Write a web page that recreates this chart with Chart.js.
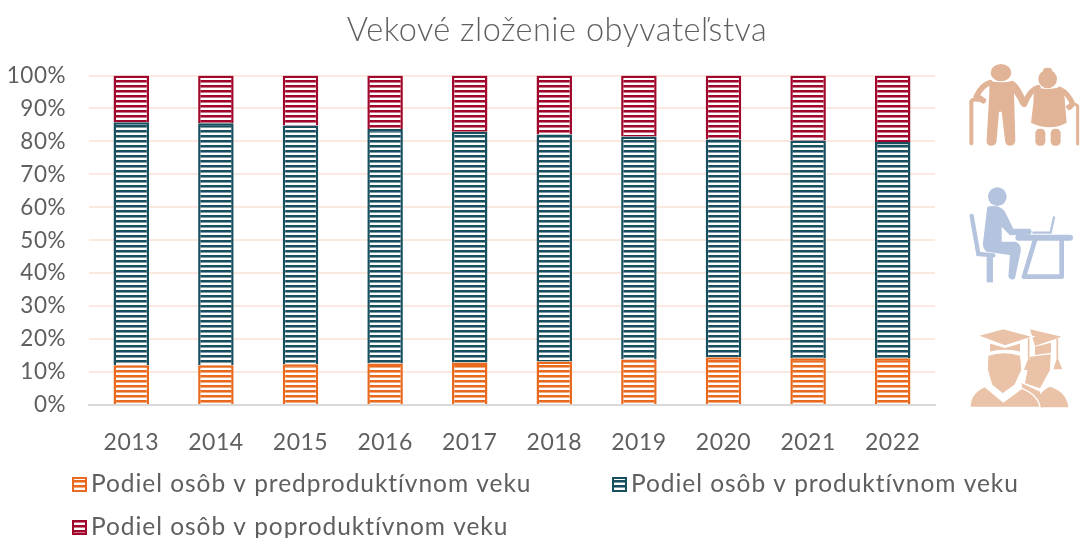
<!DOCTYPE html>
<html>
<head>
<meta charset="utf-8">
<script src="https://cdn.jsdelivr.net/npm/chart.js@4/dist/chart.umd.min.js"></script>
<style>
  html, body { margin: 0; padding: 0; background: #fff; overflow: hidden; }
  #wrap { position: relative; width: 1081px; height: 538px; }
  #icons { position: absolute; left: 0; top: 0; pointer-events: none; }
</style>
</head>
<body>
<div id="wrap">
  <canvas id="chart" width="1081" height="538"></canvas>
  <svg id="icons" width="1081" height="538" viewBox="0 0 1081 538">
    <!-- older couple -->
    <g transform="translate(950,50) scale(0.3333)" fill="#E2B497" stroke="none">
      <ellipse cx="153" cy="68" rx="31" ry="26"/>
      <path d="M118 92 Q153 102 188 92 Q208 100 232 160 Q232 172 222 172 Q212 170 205 150 L192 130 L196 270 Q196 287 180 287 Q165 287 165 270 L155 185 L147 185 L140 270 Q140 287 124 287 Q108 287 110 270 L118 130 Z"/>
      <path d="M120 98 Q95 105 80 138 L100 152" fill="none" stroke="#E2B497" stroke-width="17" stroke-linecap="round"/>
      <path d="M64 280 L64 155 Q66 146 90 150" fill="none" stroke="#E2B497" stroke-width="12" stroke-linecap="round"/>
      <ellipse cx="293" cy="63" rx="14" ry="10"/>
      <circle cx="293" cy="87" r="28"/>
      <path d="M258 112 Q293 122 328 112 Q345 125 345 160 L350 218 Q300 245 243 218 L250 160 Q250 125 258 112 Z"/>
      <path d="M264 113 Q240 120 224 160" fill="none" stroke="#E2B497" stroke-width="17" stroke-linecap="round"/>
      <path d="M330 118 Q355 130 368 162 L358 172" fill="none" stroke="#E2B497" stroke-width="16" stroke-linecap="round"/>
      <path d="M383 282 L383 168 Q375 155 352 170" fill="none" stroke="#E2B497" stroke-width="9" stroke-linecap="round"/>
      <rect x="256" y="236" width="30" height="51" rx="13"/>
      <rect x="302" y="236" width="30" height="51" rx="13"/>
    </g>
    <!-- person at a desk -->
    <g transform="translate(950,180) scale(0.3333)" fill="#B4C3DE" stroke="none">
      <circle cx="142" cy="50" r="28"/>
      <path d="M112 80 Q150 72 165 95 L190 146 L240 146 Q250 155 240 164 L180 166 L155 140 L155 185 L195 185 Q215 190 212 215 L195 295 Q185 305 175 290 L180 225 L110 215 Q95 205 100 180 Z"/>
      <path d="M65 108 L85 222 L130 226" fill="none" stroke="#B4C3DE" stroke-width="13" stroke-linecap="round"/>
      <rect x="110" y="225" width="19" height="82"/>
      <path d="M205 173 L360 173" fill="none" stroke="#B4C3DE" stroke-width="18" stroke-linecap="round"/>
      <path d="M255 180 L222 290 L335 290 L335 180" fill="none" stroke="#B4C3DE" stroke-width="14" stroke-linejoin="round" stroke-linecap="round"/>
      <path d="M250 158 L302 158 L312 112" fill="none" stroke="#B4C3DE" stroke-width="7" stroke-linecap="round"/>
    </g>
    <!-- graduates -->
    <g transform="translate(950,320) scale(0.3333)" fill="#E9C2A8" stroke="none">
      <path d="M240 28 L335 50 L255 78 Z"/>
      <path d="M255 80 L303 68 L303 98 L255 105 Z"/>
      <path d="M322 55 L322 115" fill="none" stroke="#E9C2A8" stroke-width="5"/>
      <path d="M322 110 L337 148 L310 148 Z"/>
      <path d="M240 110 L302 103 L300 150 L270 205 L225 190 Z"/>
      <path d="M262 262 Q262 215 300 200 Q350 215 355 262 Z"/>
      <path d="M215 190 L270 215 L280 262 L225 262 Z"/>
      <g stroke="#fff" stroke-width="4">
        <path d="M82 47 L160 26 L250 50 L165 78 Z"/>
        <path d="M118 68 L165 82 L212 68 L212 97 Q160 85 118 97 Z"/>
        <path d="M113 106 Q160 90 212 106 L216 150 L195 195 L158 222 L125 195 L112 150 Z"/>
        <path d="M60 262 Q60 218 105 200 L160 246 L215 205 Q265 225 270 262 Z"/>
      </g>
      <path d="M236 55 L236 115" stroke="#E9C2A8" stroke-width="5" fill="none"/>
      <path d="M236 112 L250 150 L222 150 Z"/>
    </g>
  </svg>
</div>
<script>
const years = ["2013", "2014", "2015", "2016", "2017", "2018", "2019", "2020", "2021", "2022"];
const seriesNames = ["Podiel osôb v predproduktívnom veku", "Podiel osôb v produktívnom veku", "Podiel osôb v poproduktívnom veku"];
const preProductive = [12.1, 12.1, 12.4, 12.6, 12.9, 13.2, 13.8, 14.5, 14.2, 14.2];
const productive = [73.7, 73.4, 72.4, 71.2, 70.0, 68.9, 67.7, 66.1, 66.1, 65.6];
const postProductive = [14.2, 14.5, 15.2, 16.2, 17.1, 17.9, 18.5, 19.4, 19.7, 20.2];
const yTicks = [0, 10, 20, 30, 40, 50, 60, 70, 80, 90, 100];
const seriesColors = ["#E96A1E", "#174F5F", "#A1062B"];

const fontFamily = "Lato, 'Open Sans', sans-serif";
const textColor = "#5F5F5F";

//stripe fill like the office pattern
const stripes = (color) => {
  const c = document.createElement("canvas");
  c.width = 4;
  c.height = 5;
  const g = c.getContext("2d");
  g.fillStyle = "#fff";
  g.fillRect(0, 0, 4, 5);
  g.fillStyle = color;
  g.fillRect(0, 0, 4, 2);
  g.globalAlpha = 0.55;
  g.fillRect(0, 2, 4, 1);
  return g.createPattern(c, "repeat");
};

const makeDataset = (i, values) => ({
  label: seriesNames[i],
  data: values,
  backgroundColor: stripes(seriesColors[i]),
  borderColor: seriesColors[i],
  borderWidth: 2.5,
  categoryPercentage: 1,
  barPercentage: 0.42,
});

//legend sits in two columns, left aligned, so draw it here
const legendRows = {
  id: "legendRows",
  beforeDraw(chart) {
    chart.ctx.letterSpacing = "0.5px";
  },
  afterLayout(chart) {
    chart.titleBlock.left = 0;
    chart.titleBlock.right = 1114;
  },
  afterDraw(chart) {
    const ctx = chart.ctx;
    const places = [[72, 484], [612, 484], [72, 527]];
    ctx.save();
    ctx.letterSpacing = "0.95px";
    ctx.font = "24.5px " + fontFamily;
    ctx.textBaseline = "middle";
    ctx.textAlign = "left";
    seriesNames.forEach((name, i) => {
      const [x, y] = places[i];
      ctx.fillStyle = chart.data.datasets[i].backgroundColor;
      ctx.fillRect(x + 1, y - 6, 13, 13);
      ctx.strokeStyle = seriesColors[i];
      ctx.lineWidth = 2;
      ctx.strokeRect(x + 1, y - 6, 13, 13);
      ctx.fillStyle = textColor;
      ctx.fillText(name, x + 19, y);
    });
    ctx.restore();
  },
};

new Chart(document.getElementById("chart"), {
  type: "bar",
  data: {
    labels: years,
    datasets: [
      makeDataset(0, preProductive),
      makeDataset(1, productive),
      makeDataset(2, postProductive),
    ],
  },
  plugins: [legendRows],
  options: {
    responsive: false,
    animation: false,
    layout: { padding: { left: 5, right: 146, top: 0, bottom: 73 } },
    plugins: {
      legend: { display: false },
      tooltip: { enabled: false },
      title: {
        display: true,
        text: "Vekové zloženie obyvateľstva",
        color: textColor,
        font: { family: fontFamily, size: 32.5, weight: "300" },
        padding: { top: 11, bottom: 25.5 },
      },
    },
    scales: {
      x: {
        stacked: true,
        grid: { display: false },
        border: { color: "#D9D9D9", width: 2 },
        afterFit: (scale) => { scale.height = 60; },
        ticks: {
          color: textColor,
          padding: 16,
          maxRotation: 0,
          font: { family: fontFamily, size: 23 },
        },
      },
      y: {
        stacked: true,
        min: 0,
        max: 100,
        afterFit: (scale) => { scale.width = 84; },
        afterBuildTicks: (scale) => { scale.ticks = yTicks.map((value) => ({ value })); },
        border: { display: false },
        grid: { color: "#FBE9DF", lineWidth: 2, drawTicks: false },
        ticks: {
          color: textColor,
          padding: 23,
          callback: (v) => v + "%",
          font: { family: fontFamily, size: 22.5 },
        },
      },
    },
  },
});
</script>
</body>
</html>
